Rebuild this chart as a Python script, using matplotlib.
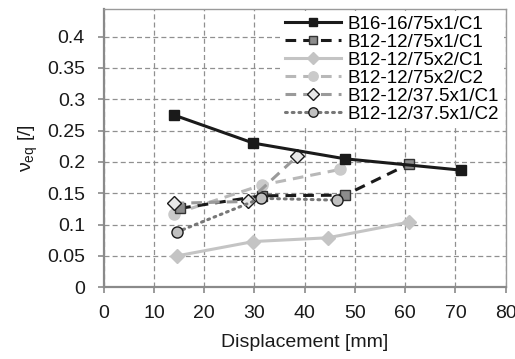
import matplotlib
matplotlib.use("Agg")
import matplotlib.pyplot as plt

plt.rcParams['font.family'] = ['Liberation Sans', 'DejaVu Sans']
plt.rcParams['mathtext.fontset'] = 'custom'
plt.rcParams['mathtext.rm'] = 'Liberation Sans'

labels = ["B16-16/75x1/C1", "B12-12/75x1/C1", "B12-12/75x2/C1",
          "B12-12/75x2/C2", "B12-12/37.5x1/C1", "B12-12/37.5x1/C2"]

x_b16_75x1_c1 = [13.9, 29.8, 48.0, 71.0]
y_b16_75x1_c1 = [0.275, 0.230, 0.205, 0.187]

x_b12_75x1_c1 = [15.2, 31.4, 48.0, 60.8]
y_b12_75x1_c1 = [0.126, 0.146, 0.147, 0.197]

x_b12_75x2_c1 = [14.5, 29.8, 44.6, 60.8]
y_b12_75x2_c1 = [0.050, 0.073, 0.079, 0.104]

x_b12_75x2_c2 = [14.0, 31.4, 47.0]
y_b12_75x2_c2 = [0.117, 0.163, 0.188]

x_b12_375x1_c1 = [13.9, 28.8, 38.5]
y_b12_375x1_c1 = [0.134, 0.137, 0.209]

x_b12_375x1_c2 = [14.5, 31.3, 46.5]
y_b12_375x1_c2 = [0.088, 0.142, 0.139]

x_ticks = [0, 10, 20, 30, 40, 50, 60, 70, 80]
y_ticks = [0, 0.05, 0.1, 0.15, 0.2, 0.25, 0.3, 0.35, 0.4]
y_tick_labels = ["0", "0.05", "0.1", "0.15", "0.2", "0.25", "0.3", "0.35", "0.4"]

fig = plt.figure(figsize=(5.15, 3.59), dpi=100)
ax = fig.add_axes([0.2014, 0.1997, 0.7806, 0.7753])

dash = (0, (3.5, 2.3))
ax.plot(x_b16_75x1_c1, y_b16_75x1_c1, color='#1a1a1a', lw=2.2, ls='-',
        marker='s', ms=7.5, mfc='#1a1a1a', mec='#1a1a1a', label=labels[0], zorder=5)
ax.plot(x_b12_75x1_c1, y_b12_75x1_c1, color='#1a1a1a', lw=2.2, ls=dash,
        marker='s', ms=7.5, mfc='#8c8c8c', mec='#333333', mew=1.0, label=labels[1], zorder=4)
ax.plot(x_b12_75x2_c1, y_b12_75x2_c1, color='#c4c4c4', lw=2.2, ls='-',
        marker='D', ms=7, mfc='#c4c4c4', mec='#c4c4c4', label=labels[2], zorder=3)
ax.plot(x_b12_75x2_c2, y_b12_75x2_c2, color='#b8b8b8', lw=2.2, ls=dash,
        marker='o', ms=8, mfc='#cacaca', mec='#cacaca', label=labels[3], zorder=3)
ax.plot(x_b12_375x1_c1, y_b12_375x1_c1, color='#9a9a9a', lw=2.2, ls=dash,
        marker='D', ms=7, mfc='#e8e8e8', mec='#1a1a1a', mew=1.0, label=labels[4], zorder=4)
ax.plot(x_b12_375x1_c2, y_b12_375x1_c2, color='#777777', lw=2.2, ls=(0, (0.6, 1.6)),
        dash_capstyle='round', marker='o', ms=8, mfc='#c0c0c0', mec='#1a1a1a', mew=1.0,
        label=labels[5], zorder=4)

ax.set_xlim(0, 80)
ax.set_ylim(0, 0.444)
ax.set_xticks(x_ticks)
ax.set_yticks(y_ticks)
ax.set_yticklabels(y_tick_labels)

ax.grid(True, color='#909090', ls=(0, (4, 2.5)), lw=0.9)
ax.set_axisbelow(True)
for s in ['left', 'bottom']:
    ax.spines[s].set_color('#8a8a8a')
    ax.spines[s].set_linewidth(1.6)
for s in ['top', 'right']:
    ax.spines[s].set_color('#9a9a9a')
    ax.spines[s].set_linewidth(1.0)
ax.tick_params(axis='both', which='both', colors='#8a8a8a', labelcolor='#1a1a1a',
               labelsize=14, length=4, width=1.2, direction='out')
ax.tick_params(axis='x', pad=8.5)
ax.tick_params(axis='y', pad=9.5)

ax.set_xlabel("Displacement [mm]", fontsize=14, color='#1a1a1a', labelpad=9)
ax.set_ylabel(r"ν$_{\mathrm{eq}}$ [/]", fontsize=14, color='#1a1a1a', labelpad=5)

leg = ax.legend(loc='upper right', fontsize=13.5, frameon=True, fancybox=False,
                framealpha=1, edgecolor='white', handlelength=3.0, handletextpad=0.35,
                labelspacing=0.05, borderpad=0.25, borderaxespad=0.1, markerscale=0.85)
leg.get_frame().set_linewidth(0)

fig.savefig("out.png", dpi=100)
